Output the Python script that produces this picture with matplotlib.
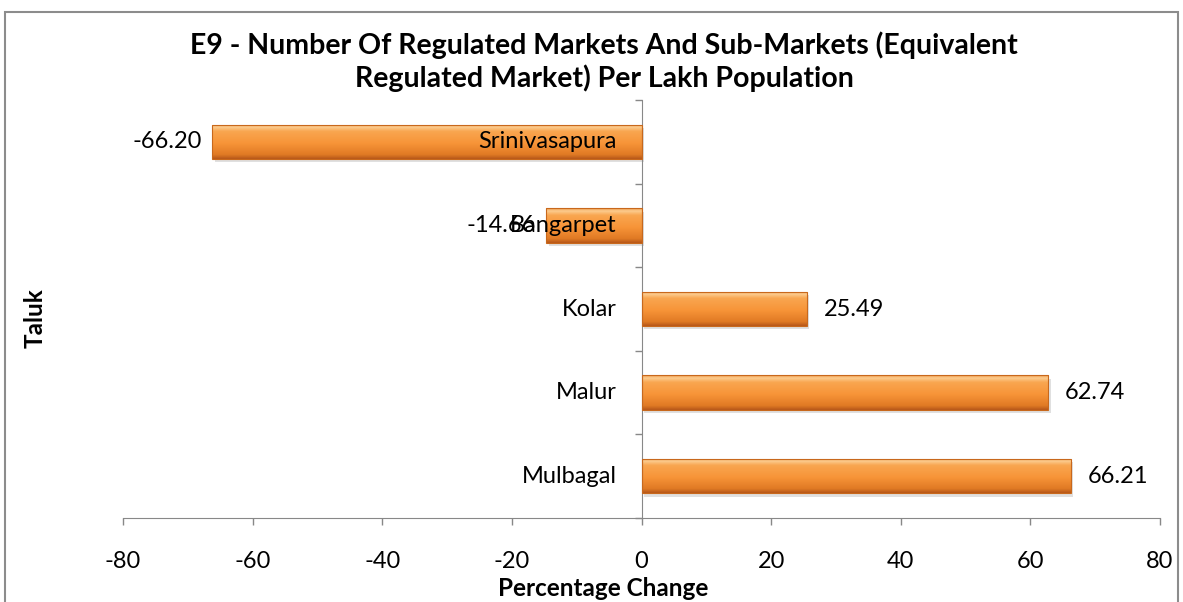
import matplotlib
matplotlib.use("Agg")
import matplotlib.pyplot as plt
import numpy as np
from matplotlib.patches import Rectangle
from matplotlib.colors import LinearSegmentedColormap

talukas = ["Srinivasapura", "Bangarpet", "Kolar", "Malur", "Mulbagal"]
values = [-66.20, -14.66, 25.49, 62.74, 66.21]
value_labels = ["-66.20", "-14.66", "25.49", "62.74", "66.21"]
xticks = [-80, -60, -40, -20, 0, 20, 40, 60, 80]

plt.rcParams['font.family'] = ['Lato', 'DejaVu Sans']

fig = plt.figure(figsize=(11.83, 6.02), dpi=100)
ax = fig.add_axes([123/1183, 1-518/602, (1160-123)/1183, (518-100)/602])

n = len(talukas)
ypos = np.arange(n)[::-1]  # first category at top
bar_h = 0.41

cmap = LinearSegmentedColormap.from_list(
    "org", [(0.0, "#B8581A"), (0.12, "#E07A24"), (0.45, "#F79438"),
            (0.8, "#F9A650"), (0.92, "#FCCB8E"), (1.0, "#F0A050")])
grad = np.linspace(0, 1, 64).reshape(-1, 1)

for y, v in zip(ypos, values):
    x0, x1 = min(0, v), max(0, v)
    sh = Rectangle((x0 + 0.4, y - bar_h/2 - 0.04), x1 - x0, bar_h,
                   facecolor="#000000", alpha=0.12, edgecolor="none", zorder=1)
    ax.add_patch(sh)
    rect = Rectangle((x0, y - bar_h/2), x1 - x0, bar_h, facecolor="none",
                     edgecolor="#C8681C", linewidth=0.8, zorder=3)
    ax.add_patch(rect)
    im = ax.imshow(grad, cmap=cmap, aspect="auto", origin="lower",
                   extent=[x0, x1, y - bar_h/2, y + bar_h/2], zorder=2)
    im.set_clip_path(rect)

for y, v, lab in zip(ypos, values, value_labels):
    if v < 0:
        ax.text(v - 1.6, y, lab, ha="right", va="center", fontsize=17, color="#000000", zorder=5)
    else:
        ax.text(v + 2.6, y, lab, ha="left", va="center", fontsize=17, color="#000000", zorder=5)

for y, name in zip(ypos, talukas):
    ax.text(-3.8, y, name, ha="right", va="center", fontsize=17, color="#000000", zorder=6)

ax.set_xlim(-80, 80)
ax.set_ylim(-0.5, n - 0.5)
ax.set_xticks(xticks)
ax.set_xticklabels([str(t) for t in xticks], fontsize=17)
ax.tick_params(axis="x", direction="out", length=5, width=1, color="#888888", pad=19)

ax.spines["top"].set_visible(False)
ax.spines["right"].set_visible(False)
ax.spines["bottom"].set_color("#888888")
ax.spines["left"].set_position(("data", 0))
ax.spines["left"].set_color("#888888")
ax.set_yticks(np.arange(n + 1) - 0.5)
ax.set_yticklabels([])
ax.tick_params(axis="y", direction="out", length=5, width=1, color="#888888")

fig.text(604/1183, 1-45/602, "E9 - Number Of Regulated Markets And Sub-Markets (Equivalent",
         ha="center", va="center", fontsize=20.5, fontweight="bold")
fig.text(604/1183, 1-78/602, "Regulated Market) Per Lakh Population",
         ha="center", va="center", fontsize=20.5, fontweight="bold")
fig.text(603/1183, 1-589/602, "Percentage Change", ha="center", va="center",
         fontsize=17.5, fontweight="bold")
fig.text(35/1183, 1-318/602, "Taluk", ha="center", va="center", rotation=90,
         fontsize=17.5, fontweight="bold")

fig.add_artist(Rectangle((5/1183, -0.05), (1178-5)/1183, 1.05 - 12/602,
                         transform=fig.transFigure, facecolor="none",
                         edgecolor="#8C8C8C", linewidth=1.5))

fig.savefig("out.png", dpi=100)
